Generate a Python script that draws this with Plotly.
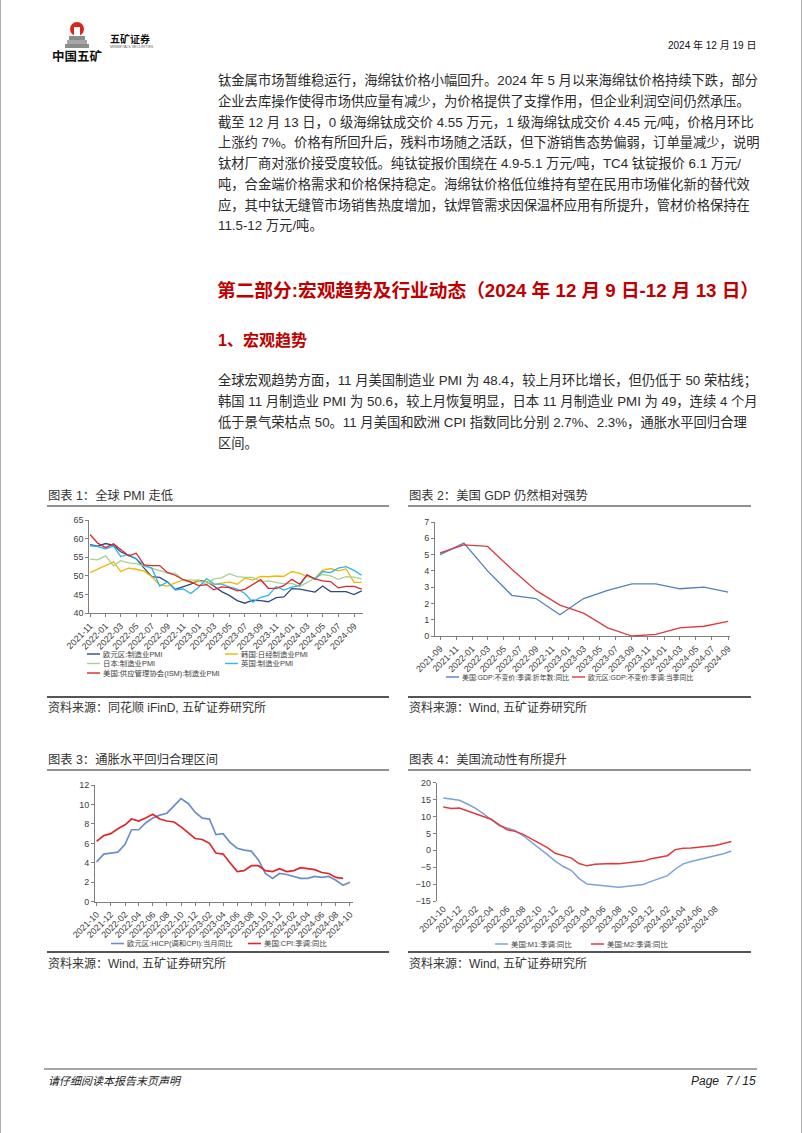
import plotly.graph_objects as go

W, H = 802, 1133
FONT = "Liberation Sans, Noto Sans CJK SC, sans-serif"
TXT = "#2b2b2b"
RED = "#C00000"
AX = "#7f7f7f"
BG = "white"


def fx(x):
    return x / W


def fy(y):
    return 1 - y / H


def month_list(start, n):
    y, m = int(start[:4]), int(start[5:7])
    out = []
    for i in range(n):
        yy = y + (m - 1 + i) // 12
        mm = (m - 1 + i) % 12 + 1
        out.append(f"{yy}-{mm:02d}")
    return out


# ---------------- data: chart 1 (PMI, 2021-11 .. 2024-10) ----------------
pmi_months = month_list("2021-11", 36)
pmi_tick_labels = month_list("2021-11", 35)[::2]
eu_pmi = [58.4, 58.0, 58.7, 58.2, 56.5, 55.5, 54.6, 52.1, 49.8, 49.6, 48.4, 46.4, 47.1, 47.8,
          48.8, 48.5, 47.3, 45.8, 44.8, 43.4, 42.7, 43.5, 43.4, 43.1, 44.2, 44.4,
          46.6, 46.5, 46.1, 45.7, 47.3, 45.8, 45.8, 45.8, 45.0, 46.0]
kr_pmi = [50.9, 51.9, 52.8, 53.8, 51.2, 52.1, 51.8, 51.3, 49.8, 47.6, 47.3, 48.2, 49.0, 48.2,
          48.5, 48.5, 47.6, 48.1, 48.4, 47.8, 49.4, 48.9, 49.9, 49.8, 50.0, 49.9,
          51.2, 50.7, 49.8, 49.4, 51.6, 52.0, 51.4, 51.9, 48.3, 48.3]
jp_pmi = [54.5, 54.3, 55.4, 52.7, 54.1, 53.5, 53.3, 52.7, 52.1, 51.5, 50.8, 50.7, 49.0, 48.9,
          48.9, 47.7, 49.2, 49.5, 50.6, 49.8, 49.6, 49.6, 48.5, 48.7, 48.3, 47.9,
          48.0, 47.2, 48.2, 49.6, 50.4, 50.0, 49.1, 49.8, 49.7, 49.2]
uk_pmi = [58.1, 57.9, 57.3, 58.0, 55.2, 55.8, 54.6, 52.8, 52.1, 47.3, 48.4, 46.2, 46.5, 45.3,
          47.0, 49.3, 47.9, 47.8, 47.1, 46.5, 45.3, 43.0, 44.3, 44.8, 47.2, 46.2,
          47.0, 47.5, 50.3, 49.1, 51.2, 50.9, 52.1, 52.5, 51.5, 50.2]
us_pmi = [61.1, 58.8, 57.6, 58.6, 57.1, 55.4, 56.1, 53.0, 52.8, 52.8, 50.9, 50.2, 49.0, 48.4,
          47.4, 47.7, 46.3, 47.1, 46.9, 46.0, 46.4, 47.6, 49.0, 46.7, 46.7, 47.4,
          49.1, 47.8, 50.3, 49.2, 48.7, 48.5, 46.8, 47.2, 47.2, 46.5]

# ---------------- data: chart 2 (GDP, quarterly) ----------------
gdp_quarters = ["2021-09", "2021-12", "2022-03", "2022-06", "2022-09", "2022-12", "2023-03",
                "2023-06", "2023-09", "2023-12", "2024-03", "2024-06", "2024-09"]
gdp_tick_labels = month_list("2021-09", 37)[::2]
us_gdp = [5.0, 5.7, 4.0, 2.5, 2.3, 1.3, 2.3, 2.8, 3.2, 3.2, 2.9, 3.0, 2.7]
eu_gdp = [5.1, 5.6, 5.5, 4.1, 2.8, 1.9, 1.4, 0.5, 0.0, 0.1, 0.5, 0.6, 0.9]

# ---------------- data: chart 3 (CPI) ----------------
cpi_months_eu = month_list("2021-10", 37)
cpi_months_us = month_list("2021-10", 36)
cpi_tick_labels = month_list("2021-10", 37)[::2]
eu_hicp = [4.1, 4.9, 5.0, 5.1, 5.9, 7.4, 7.4, 8.1, 8.6, 8.9, 9.1, 9.9, 10.6, 10.1, 9.2,
           8.6, 8.5, 6.9, 7.0, 6.1, 5.5, 5.3, 5.2, 4.3, 2.9, 2.4, 2.9,
           2.8, 2.6, 2.4, 2.4, 2.6, 2.5, 2.6, 2.2, 1.7, 2.0]
us_cpi = [6.2, 6.8, 7.0, 7.5, 7.9, 8.5, 8.3, 8.6, 9.0, 8.5, 8.3, 8.2, 7.7, 7.1, 6.5,
          6.4, 6.0, 5.0, 4.9, 4.0, 3.1, 3.2, 3.7, 3.7, 3.2, 3.1, 3.4,
          3.1, 3.2, 3.5, 3.4, 3.3, 3.0, 2.9, 2.5, 2.4]

# ---------------- data: chart 4 (money supply) ----------------
money_months = month_list("2021-10", 37)
money_tick_labels = month_list("2021-10", 35)[::2]
us_m1 = [15.5, 15.2, 14.8, 13.7, 12.4, 10.9, 9.0, 7.3, 6.6, 5.9, 4.3, 2.5, 0.6, -1.3, -3.2,
         -4.8, -6.0, -8.3, -10.0, -10.3, -10.5, -10.7, -10.9, -10.7, -10.4, -10.1, -9.2,
         -8.4, -7.5, -5.6, -4.0, -3.3, -2.7, -2.1, -1.7, -1.0, -0.2]
us_m2 = [12.8, 12.4, 12.5, 11.6, 10.8, 10.0, 9.2, 7.6, 6.1, 5.6, 4.7, 3.4, 2.0, 0.8, -0.9,
         -1.6, -2.3, -3.9, -4.6, -4.1, -3.9, -3.9, -4.0, -3.8, -3.5, -3.2, -2.5,
         -2.1, -1.6, 0.2, 0.6, 0.7, 0.9, 1.2, 1.4, 2.0, 2.6]

# ---------------- series definitions ----------------
chart1_series = [
    ("欧元区:制造业PMI", eu_pmi, "#2F4B7C"),
    ("韩国:日经制造业PMI", kr_pmi, "#F2B705"),
    ("日本:制造业PMI", jp_pmi, "#A9D18E"),
    ("英国:制造业PMI", uk_pmi, "#2EB4EE"),
    ("美国:供应管理协会(ISM):制造业PMI", us_pmi, "#D9262B"),
]
chart2_series = [
    ("美国:GDP:不变价:季调:折年数:同比", us_gdp, "#4F81BD"),
    ("欧元区:GDP:不变价:季调:当季同比", eu_gdp, "#E0393E"),
]
chart3_series = [
    ("欧元区:HICP(调和CPI):当月同比", cpi_months_eu, eu_hicp, "#6A8FCB"),
    ("美国:CPI:季调:同比", cpi_months_us, us_cpi, "#E0262D"),
]
chart4_series = [
    ("美国:M1:季调:同比", us_m1, "#7BA3D8"),
    ("美国:M2:季调:同比", us_m2, "#E0393E"),
]

fig = go.Figure()

for name, vals, col in chart1_series:
    fig.add_trace(go.Scatter(x=pmi_months, y=vals, name=name, mode="lines",
                             line=dict(color=col, width=1.3), xaxis="x", yaxis="y",
                             showlegend=False))
for name, vals, col in chart2_series:
    fig.add_trace(go.Scatter(x=gdp_quarters, y=vals, name=name, mode="lines",
                             line=dict(color=col, width=1.3), xaxis="x2", yaxis="y2",
                             showlegend=False))
for name, xs, vals, col in chart3_series:
    fig.add_trace(go.Scatter(x=xs, y=vals, name=name, mode="lines",
                             line=dict(color=col, width=1.7), xaxis="x3", yaxis="y3",
                             showlegend=False))
for name, vals, col in chart4_series:
    fig.add_trace(go.Scatter(x=money_months, y=vals, name=name, mode="lines",
                             line=dict(color=col, width=1.5), xaxis="x4", yaxis="y4",
                             showlegend=False))


def xaxis_style(x0, x1, anchor, rng, tick_labels, show_line=True, ticks="outside"):
    return dict(domain=[fx(x0), fx(x1)], anchor=anchor, type="date", range=rng,
                tickmode="array", tickvals=[t + "-01" for t in tick_labels], ticktext=tick_labels,
                tickangle=-45, ticks=ticks, ticklen=3, tickcolor=AX, showline=show_line,
                linecolor=AX, linewidth=1, showgrid=False, zeroline=False, automargin=False,
                tickfont=dict(family=FONT, size=9, color="#404040"), fixedrange=True)


def yaxis_style(y_bottom, y_top, anchor, rng, dtick):
    return dict(domain=[fy(y_bottom), fy(y_top)], anchor=anchor, range=rng, dtick=dtick,
                tick0=rng[0], ticks="outside", ticklen=3, tickcolor=AX, showline=True,
                linecolor=AX, linewidth=1, showgrid=False, zeroline=False, automargin=False,
                tickfont=dict(family=FONT, size=9, color="#404040"), fixedrange=True)


y4_bottom, y4_top = 901.0, 782.7
y4_range = [-15, 20]
zero_pos = fy(y4_bottom) + (0 - y4_range[0]) / (y4_range[1] - y4_range[0]) * (fy(y4_top) - fy(y4_bottom))
x4_range = ["2021-09-06", "2024-10-15"]

fig.update_layout(
    width=W, height=H, margin=dict(l=0, r=0, t=0, b=0, autoexpand=False),
    paper_bgcolor=BG, plot_bgcolor=BG, showlegend=False,
    xaxis=xaxis_style(89.3, 362.7, "y", ["2021-10-29", "2024-10-05"], pmi_tick_labels),
    yaxis=yaxis_style(613.3, 520.0, "x", [40, 65], 5),
    xaxis2=xaxis_style(435.0, 730.0, "y2", ["2021-08-13", "2024-09-08"], gdp_tick_labels),
    yaxis2=yaxis_style(636.0, 522.0, "x2", [0, 7], 1),
    xaxis3=xaxis_style(95.0, 353.0, "y3", ["2021-09-24", "2024-10-14"], cpi_tick_labels),
    yaxis3=yaxis_style(901.7, 785.0, "x3", [0, 12], 2),
    xaxis4=xaxis_style(436.7, 735.0, "y4", x4_range, money_tick_labels, show_line=False, ticks=""),
    yaxis4=yaxis_style(y4_bottom, y4_top, "x4", y4_range, 5),
)
x5 = xaxis_style(436.7, 735.0, "free", x4_range, money_tick_labels)
x5.update(overlaying="x4", position=zero_pos, showticklabels=False)
fig.update_layout(xaxis5=x5)

shapes = []
annotations = []


def text(x, y, s, size, color=TXT, anchor="left", bold=False, italic=False, family=FONT):
    if bold:
        s = f"<b>{s}</b>"
    if italic:
        s = f"<i>{s}</i>"
    annotations.append(dict(x=fx(x), y=fy(y), xref="paper", yref="paper", text=s,
                            showarrow=False, xanchor=anchor, yanchor="middle", align=anchor,
                            borderpad=0, font=dict(family=family, size=size, color=color)))


def hline(x0, x1, y, color, width):
    shapes.append(dict(type="line", xref="paper", yref="paper", x0=fx(x0), x1=fx(x1),
                       y0=fy(y), y1=fy(y), line=dict(color=color, width=width)))


def rect(x0, y0, x1, y1, color):
    shapes.append(dict(type="rect", xref="paper", yref="paper", x0=fx(x0), x1=fx(x1),
                       y0=fy(y1), y1=fy(y0), fillcolor=color, line=dict(width=0)))


def legend_item(x_line, y, name, color, width=1.5, size=7.4):
    hline(x_line, x_line + 13, y, color, width)
    text(x_line + 15, y, name, size, "#404040")


# ---------------- header ----------------
shapes.append(dict(type="circle", xref="paper", yref="paper", x0=fx(70), x1=fx(84), y0=fy(36),
                   y1=fy(22), fillcolor="#D7261E", line=dict(width=0)))
rect(74, 27, 80, 36, "white")
rect(69, 36, 85, 40, "#8C8C8C")
rect(67, 40, 87, 44, "#A6A6A6")
rect(65, 44, 89, 48, "#8C8C8C")
text(77.5, 57, "中国五矿", 12.5, "#111111", anchor="center", bold=True)
text(109, 39, "五矿证券", 10, "#111111", bold=True)
text(109, 47, "MINMETALS SECURITIES", 3.6, "#666666")
text(757, 45, "2024 年 12 月 19 日", 10, "#111111", anchor="right")
shapes.append(dict(type="line", xref="paper", yref="paper", x0=fx(0.5), x1=fx(0.5), y0=0, y1=1,
                   line=dict(color="#B0B0B0", width=1)))
shapes.append(dict(type="line", xref="paper", yref="paper", x0=fx(801.5), x1=fx(801.5), y0=0, y1=1,
                   line=dict(color="#B0B0B0", width=1)))

# ---------------- body text ----------------
BODY = 13.3
para1 = [
    "钛金属市场暂维稳运行，海绵钛价格小幅回升。2024 年 5 月以来海绵钛价格持续下跌，部分",
    "企业去库操作使得市场供应量有减少，为价格提供了支撑作用，但企业利润空间仍然承压。",
    "截至 12 月 13 日，0 级海绵钛成交价 4.55 万元，1 级海绵钛成交价 4.45 元/吨，价格月环比",
    "上涨约 7%。价格有所回升后，残料市场随之活跃，但下游销售态势偏弱，订单量减少，说明",
    "钛材厂商对涨价接受度较低。纯钛锭报价围绕在 4.9-5.1 万元/吨，TC4 钛锭报价 6.1 万元/",
    "吨，合金端价格需求和价格保持稳定。海绵钛价格低位维持有望在民用市场催化新的替代效",
    "应，其中钛无缝管市场销售热度增加，钛焊管需求因保温杯应用有所提升，管材价格保持在",
    "11.5-12 万元/吨。",
]
for i, line in enumerate(para1):
    text(217, 80 + 20.8 * i, line, BODY)

text(216, 290, "第二部分:宏观趋势及行业动态（2024 年 12 月 9 日-12 月 13 日）", 18.7, RED, bold=True)
text(217, 340, "1、宏观趋势", 16, RED, bold=True)

para2 = [
    "全球宏观趋势方面，11 月美国制造业 PMI 为 48.4，较上月环比增长，但仍低于 50 荣枯线；",
    "韩国 11 月制造业 PMI 为 50.6，较上月恢复明显，日本 11 月制造业 PMI 为 49，连续 4 个月",
    "低于景气荣枯点 50。11 月美国和欧洲 CPI 指数同比分别 2.7%、2.3%，通胀水平回归合理",
    "区间。",
]
for i, line in enumerate(para2):
    text(217, 380 + 21 * i, line, BODY)

# ---------------- chart frames ----------------
TITLE = 12.3
text(47, 495, "图表 1：全球 PMI 走低", TITLE, "#333333")
text(408, 495, "图表 2：美国 GDP 仍然相对强势", TITLE, "#333333")
text(47, 759, "图表 3：通胀水平回归合理区间", TITLE, "#333333")
text(408, 759, "图表 4：美国流动性有所提升", TITLE, "#333333")
for (x0, x1) in [(47, 389), (408, 751)]:
    hline(x0, x1, 506, "#222222", 1.2)
    hline(x0, x1, 697, "#555555", 2)
    hline(x0, x1, 770, "#222222", 1.2)
    hline(x0, x1, 952, "#555555", 2)
text(47, 707, "资料来源：同花顺 iFinD, 五矿证券研究所", 12, "#333333")
text(408, 707, "资料来源：Wind, 五矿证券研究所", 12, "#333333")
text(47, 963, "资料来源：Wind, 五矿证券研究所", 12, "#333333")
text(408, 963, "资料来源：Wind, 五矿证券研究所", 12, "#333333")

# ---------------- legends ----------------
legend1_pos = [(87, 654), (225, 654), (87, 663.5), (225, 663.5), (87, 673)]
for (name, _, col), (lx, ly) in zip(chart1_series, legend1_pos):
    legend_item(lx, ly, name, col, 1.4)
for (name, _, col), (lx, ly) in zip(chart2_series, [(446, 677), (572, 677)]):
    legend_item(lx, ly, name, col, 1.4, size=6.9)
for (name, _, _, col), (lx, ly) in zip(chart3_series, [(111, 943.5), (248, 943.5)]):
    legend_item(lx, ly, name, col, 1.6)
for (name, _, col), (lx, ly) in zip(chart4_series, [(495, 944), (591, 944)]):
    legend_item(lx, ly, name, col, 1.5)

# ---------------- footer ----------------
hline(44, 757, 1069, "#A6A6A6", 2)
text(47, 1081, "请仔细阅读本报告末页声明", 11, "#222222", italic=True)
text(757, 1081, "Page  7 / 15", 12, "#222222", anchor="right", italic=True)

fig.update_layout(shapes=shapes, annotations=annotations)
fig.write_html(
    "out.html",
    config={"displayModeBar": False},
    post_script="document.body.style.margin='0';document.body.style.overflow='hidden';",
)
